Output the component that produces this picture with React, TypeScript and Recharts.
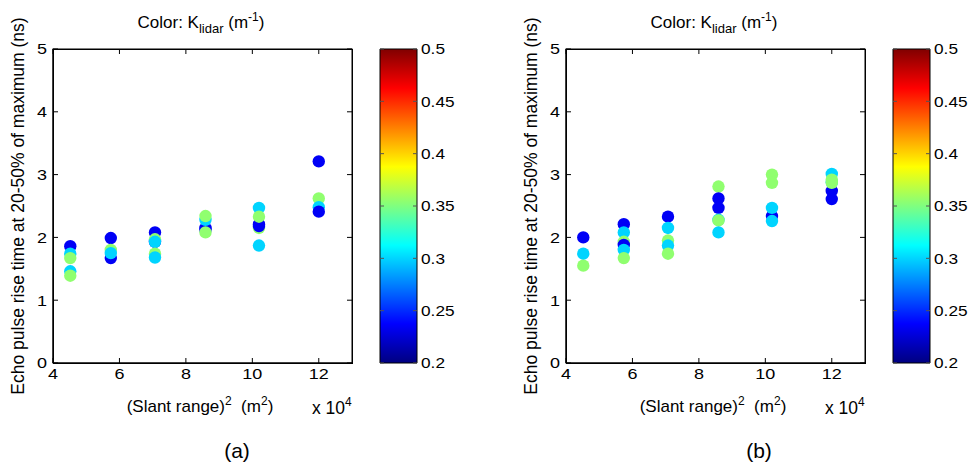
import React from 'react';
import { ScatterChart, Scatter, XAxis, YAxis, ReferenceArea, Label } from 'recharts';

// Slant range squared (x 10^4 m^2) for each measurement group
const rangeSq = [4.52, 5.74, 7.07, 8.59, 10.2, 12.0];
const xDomain = [4, 13];
const yDomain = [0, 5];
const xTicks = [4, 6, 8, 10, 12];
const yTicks = [0, 1, 2, 3, 4, 5];
const cbTicks = [0.2, 0.25, 0.3, 0.35, 0.4, 0.45, 0.5];

// K_lidar levels (m^-1)
const KB = 0.235;
const KC = 0.3;
const KG = 0.355;

// Panel (a): rise times (ns) and K per group
const riseA = [
  [1.86, 1.74, 1.67, 1.46, 1.39],
  [1.99, 1.80, 1.67, 1.75],
  [2.08, 1.93, 1.97, 1.93, 1.74, 1.68],
  [2.15, 2.12, 2.28, 2.34, 2.08],
  [2.15, 2.21, 2.18, 2.47, 2.33, 1.87],
  [3.21, 2.62, 2.48, 2.41],
];
const kA = [
  [KB, KC, KG, KC, KG],
  [KB, KG, KB, KC],
  [KB, KB, KG, KC, KG, KC],
  [KB, KB, KC, KG, KG],
  [KG, KB, KB, KC, KG, KC],
  [KB, KG, KC, KB],
];

// Panel (b)
const riseB = [
  [2.0, 1.74, 1.55],
  [2.21, 2.08, 1.93, 1.88, 1.80, 1.67],
  [2.33, 2.15, 1.95, 1.87, 1.74],
  [2.81, 2.62, 2.47, 2.28, 2.27, 2.08],
  [3.0, 2.87, 2.34, 2.47, 2.26],
  [2.61, 2.74, 3.01, 2.88, 2.92, 2.87],
];
const kB = [
  [KB, KC, KG],
  [KB, KC, KG, KB, KC, KG],
  [KB, KC, KG, KC, KG],
  [KG, KB, KB, KC, KG, KC],
  [KG, KG, KB, KC, KC],
  [KB, KB, KC, KC, KG, KG],
];

const FONT = '"Liberation Sans", Arial, sans-serif';

// panel chart geometry
const CW = 370;
const CH = 469;
const M_TOP = 49;
const M_RIGHT = 18;
const M_BOTTOM = 76;
const X_AXIS_H = 30;
const Y_AXIS_W = 53;
const PL = Y_AXIS_W;
const PR = CW - M_RIGHT;
const PT = M_TOP;
const PB = CH - M_BOTTOM - X_AXIS_H;

function clamp(v: number) {
  return Math.max(0, Math.min(1, v));
}
function jet(k: number) {
  const t = (k - 0.2) / 0.3;
  const r = clamp(Math.min(4 * t - 1.5, -4 * t + 4.5));
  const g = clamp(Math.min(4 * t - 0.5, -4 * t + 3.5));
  const b = clamp(Math.min(4 * t + 0.5, -4 * t + 2.5));
  const h = (v: number) => Math.round(v * 255).toString(16).padStart(2, '0');
  return '#' + h(r) + h(g) + h(b);
}

function buildPoints(rise: number[][], ks: number[][]) {
  const pts: { x: number; y: number; k: number }[] = [];
  rise.forEach((grp, i) => {
    grp.forEach((y, j) => pts.push({ x: rangeSq[i], y, k: ks[i][j] }));
  });
  return pts;
}

const cbData = cbTicks.map((v) => ({ x: 0.5, y: v }));

const Dot = (props: any) => {
  const { cx, cy, payload } = props;
  if (cx == null || cy == null) return null;
  return <circle cx={cx} cy={cy} r={6.2} fill={jet(payload.k)} />;
};
const NoDot = () => null;
const blank = () => '';

// MATLAB-style box with inward ticks on all four sides
const Frame = () => {
  const sx = (v: number) => PL + ((v - xDomain[0]) / (xDomain[1] - xDomain[0])) * (PR - PL);
  const sy = (v: number) => PB - ((v - yDomain[0]) / (yDomain[1] - yDomain[0])) * (PB - PT);
  return (
    <g stroke="#000" strokeWidth={1} fill="none">
      <rect x={PL} y={PT} width={PR - PL} height={PB - PT} />
      {xTicks.map((t) => (
        <g key={'x' + t}>
          <line x1={sx(t)} x2={sx(t)} y1={PB} y2={PB - 5} />
          <line x1={sx(t)} x2={sx(t)} y1={PT} y2={PT + 5} />
        </g>
      ))}
      {yTicks.map((t) => (
        <g key={'y' + t}>
          <line x1={PL} x2={PL + 5} y1={sy(t)} y2={sy(t)} />
          <line x1={PR} x2={PR - 5} y1={sy(t)} y2={sy(t)} />
        </g>
      ))}
    </g>
  );
};

const axisStroke = { stroke: '#000', strokeWidth: 1 };
const cbTickStroke = { stroke: '#555', strokeWidth: 1 };
const hiddenTick = { fill: 'none', fontSize: 1 };

const fmt = (v: number) => String(v);

const XTick = (props: any) => {
  const { x, y, payload } = props;
  return (
    <text transform={`translate(${x},${y}) scale(1.2,1)`} textAnchor="middle" dy="0.71em" fontSize={15} fontFamily={FONT} fill="#000">
      {fmt(payload.value)}
    </text>
  );
};
const YTickL = (props: any) => {
  const { x, y, payload } = props;
  return (
    <text transform={`translate(${x},${y}) scale(1.2,1)`} textAnchor="end" dy="0.355em" fontSize={15} fontFamily={FONT} fill="#000">
      {fmt(payload.value)}
    </text>
  );
};
const YTickR = (props: any) => {
  const { x, y, payload } = props;
  return (
    <text transform={`translate(${x},${y}) scale(1.15,1)`} textAnchor="start" dy="0.355em" fontSize={15} fontFamily={FONT} fill="#000">
      {fmt(payload.value)}
    </text>
  );
};

function Panel({ left, data, letter, letterX }: { left: number; data: any[]; letter: string; letterX: number }) {
  return (
    <div style={{ position: 'absolute', left, top: 0, width: CW, height: CH }}>
      <ScatterChart width={CW} height={CH} margin={{ top: M_TOP, right: M_RIGHT, bottom: M_BOTTOM, left: 0 }}>
        <XAxis
          xAxisId="b"
          type="number"
          dataKey="x"
          domain={xDomain}
          ticks={xTicks}
          height={X_AXIS_H}
          axisLine={axisStroke}
          tickLine={false}
          tickSize={-5}
          tickMargin={10}
          tick={<XTick />}
        >
          <Label content={Frame} />
          <Label
            content={() => (
              <text x={200} y={412} textAnchor="middle" fontSize={17} fontFamily={FONT} fill="#000" style={{ whiteSpace: 'pre' }}>
                (Slant range)
                <tspan fontSize={12} dy={-7}>2</tspan>
                <tspan dy={7}>{'  (m'}</tspan>
                <tspan fontSize={12} dy={-7}>2</tspan>
                <tspan dy={7}>)</tspan>
              </text>
            )}
          />
          <Label
            content={() => (
              <text x={312} y={414} textAnchor="start" fontSize={17.5} fontFamily={FONT} fill="#000">
                x 10
                <tspan fontSize={12} dy={-8}>4</tspan>
              </text>
            )}
          />
          <Label
            content={() => (
              <text x={letterX} y={458} textAnchor="middle" fontSize={21} fontFamily={FONT} fill="#000">
                {letter}
              </text>
            )}
          />
        </XAxis>
        <YAxis
          yAxisId="l"
          type="number"
          dataKey="y"
          domain={yDomain}
          ticks={yTicks}
          width={Y_AXIS_W}
          axisLine={axisStroke}
          tickLine={false}
          tickSize={-5}
          tickMargin={11}
          tick={<YTickL />}
        >
          <Label
            content={() => (
              <text
                x={18}
                y={206}
                textAnchor="middle"
                dominantBaseline="central"
                fontSize={17.5}
                fontFamily={FONT}
                fill="#000"
                transform="rotate(-90 18 206)"
              >
                Echo pulse rise time at 20-50% of maximum (ns)
              </text>
            )}
          />
          <Label
            content={() => (
              <text x={201} y={28} textAnchor="middle" fontSize={17} fontFamily={FONT} fill="#000">
                Color: K
                <tspan fontSize={13} dy={5}>lidar</tspan>
                <tspan dy={-5}> (m</tspan>
                <tspan fontSize={12} dy={-7}>-1</tspan>
                <tspan dy={7}>)</tspan>
              </text>
            )}
          />
        </YAxis>
        <Scatter data={data} xAxisId="b" yAxisId="l" shape={Dot} isAnimationActive={false} />
      </ScatterChart>
      <div
        style={{
          position: 'absolute',
          left: PL,
          top: PT,
          width: PR - PL + 1,
          height: PB - PT + 1,
          boxSizing: 'border-box',
          border: '1px solid #000',
          pointerEvents: 'none',
        }}
      />
    </div>
  );
}

function ColorBar({ left, id }: { left: number; id: string }) {
  return (
    <div style={{ position: 'absolute', left, top: 0 }}>
      <ScatterChart width={100} height={469} margin={{ top: 49, right: 0, bottom: 106, left: 0 }}>
        <defs>
          <linearGradient id={id} x1="0" y1="0" x2="0" y2="1">
            <stop offset="0" stopColor="#800000" />
            <stop offset="0.125" stopColor="#ff0000" />
            <stop offset="0.375" stopColor="#ffff00" />
            <stop offset="0.625" stopColor="#00ffff" />
            <stop offset="0.875" stopColor="#0000ff" />
            <stop offset="1" stopColor="#000080" />
          </linearGradient>
        </defs>
        <XAxis xAxisId="c" type="number" dataKey="x" domain={[0, 1]} hide />
        <YAxis
          yAxisId="cl"
          type="number"
          dataKey="y"
          domain={[0.2, 0.5]}
          ticks={cbTicks}
          width={20}
          axisLine={false}
          tickLine={cbTickStroke}
          tickSize={-4}
          tickMargin={0}
          tickFormatter={blank}
          tick={hiddenTick}
        />
        <YAxis
          yAxisId="cr"
          orientation="right"
          type="number"
          dataKey="y"
          domain={[0.2, 0.5]}
          ticks={cbTicks}
          width={43}
          axisLine={false}
          tickLine={cbTickStroke}
          tickSize={-4}
          tickMargin={8}
          tick={<YTickR />}
        />
        <ReferenceArea
          xAxisId="c"
          yAxisId="cl"
          x1={0}
          x2={1}
          y1={0.2}
          y2={0.5}
          fill={`url(#${id})`}
          fillOpacity={1}
          stroke="#000"
          strokeWidth={1}
        />
        <Scatter data={cbData} xAxisId="c" yAxisId="cl" shape={NoDot} isAnimationActive={false} />
        <Scatter data={cbData} xAxisId="c" yAxisId="cr" shape={NoDot} isAnimationActive={false} />
      </ScatterChart>
    </div>
  );
}

export default function App() {
  const dataA = buildPoints(riseA, kA);
  const dataB = buildPoints(riseB, kB);
  return (
    <div style={{ position: 'absolute', left: 0, top: 0, width: 972, height: 469, background: '#fff', fontFamily: FONT }}>
      <Panel left={0} data={dataA} letter="(a)" letterX={237} />
      <ColorBar left={360} id="jetA" />
      <Panel left={513} data={dataB} letter="(b)" letterX={246} />
      <ColorBar left={873} id="jetB" />
    </div>
  );
}
